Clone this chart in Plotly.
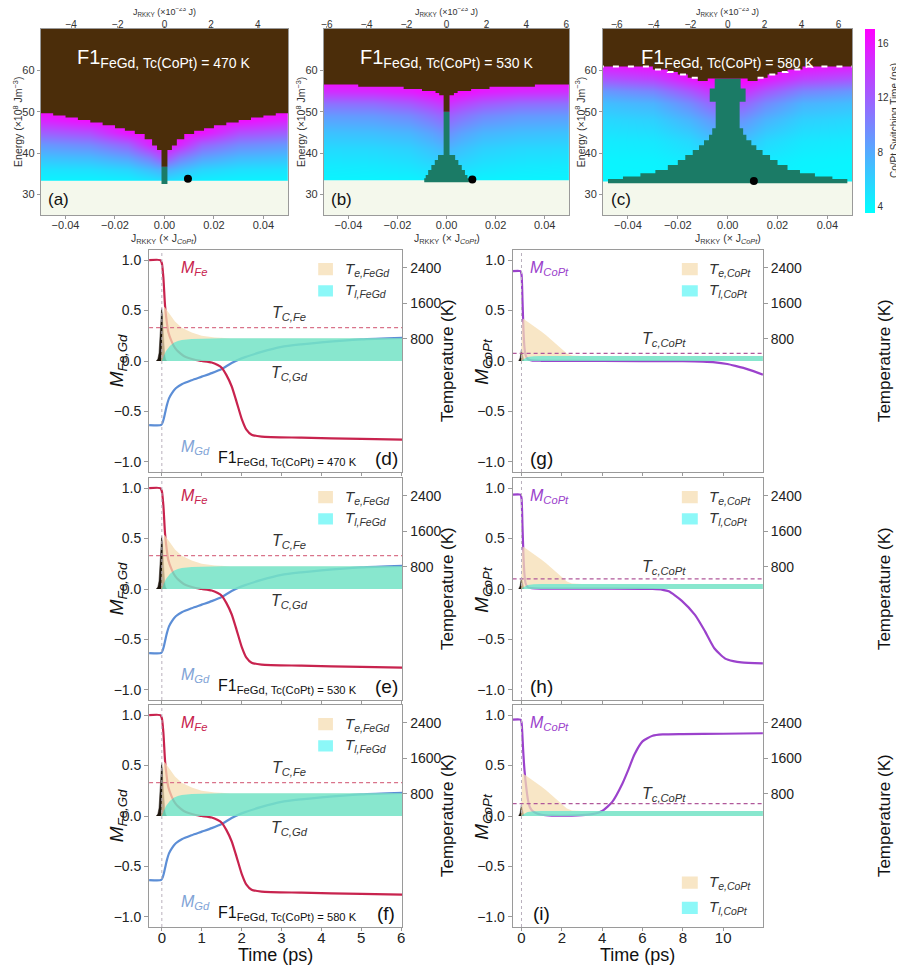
import plotly.graph_objects as go

# the page shows the figure with an 8 px body margin, so the figure is 8 px smaller
# than the window and all reference pixel positions are shifted by 8 px
PAGE_W, PAGE_H, OFF = 904, 968, 8
W, H = PAGE_W - OFF, PAGE_H - OFF
FONT = "Liberation Sans, Arial, sans-serif"

# ---------------- data : top row (switching-time maps) ----------------
tc_copt = [470, 530, 580]
heat_labels = ["(a)", "(b)", "(c)"]
heat_J = [-0.05, -0.03, -0.015, -0.006, 0.0, 0.006, 0.015, 0.03, 0.05]

heat_E_a = [33, 36, 39, 42, 45, 48, 51]
heat_z_a = [
    [4.0, 4.0, 4.1, 4.4, 4.8, 4.4, 4.1, 4.0, 4.0],
    [5.0, 5.2, 5.8, 7.0, 8.0, 7.0, 5.8, 5.2, 5.0],
    [6.8, 7.2, 8.5, 10.5, 13.0, 10.5, 8.5, 7.2, 6.8],
    [9.0, 9.8, 11.8, 15.0, 17.0, 15.0, 11.8, 9.8, 9.0],
    [12.0, 13.0, 16.0, 17.0, 17.0, 17.0, 16.0, 13.0, 12.0],
    [15.0, 16.3, 17.0, 17.0, 17.0, 17.0, 17.0, 16.3, 15.0],
    [17.0, 17.0, 17.0, 17.0, 17.0, 17.0, 17.0, 17.0, 17.0],
]
heat_E_b = [33, 37, 41, 45, 49, 52, 55, 58]
heat_z_b = [
    [4.0, 4.0, 4.0, 4.2, 4.4, 4.2, 4.0, 4.0, 4.0],
    [4.6, 4.7, 5.0, 5.5, 6.0, 5.5, 5.0, 4.7, 4.6],
    [5.5, 5.6, 6.0, 6.8, 7.5, 6.8, 6.0, 5.6, 5.5],
    [6.8, 7.0, 7.5, 8.5, 9.5, 8.5, 7.5, 7.0, 6.8],
    [8.8, 9.0, 9.8, 11.0, 12.0, 11.0, 9.8, 9.0, 8.8],
    [11.0, 11.3, 12.3, 13.5, 14.5, 13.5, 12.3, 11.3, 11.0],
    [14.5, 14.8, 15.5, 16.5, 17.0, 16.5, 15.5, 14.8, 14.5],
    [17.0, 17.0, 17.0, 17.0, 17.0, 17.0, 17.0, 17.0, 17.0],
]
heat_E_c = [33, 38, 43, 48, 52, 55, 58, 61]
heat_z_c = [
    [4.0, 4.0, 4.0, 4.0, 4.0, 4.0, 4.0, 4.0, 4.0],
    [4.1, 4.2, 4.6, 5.2, 5.5, 5.2, 4.6, 4.2, 4.1],
    [4.6, 4.8, 5.6, 6.8, 7.2, 6.8, 5.6, 4.8, 4.6],
    [5.6, 6.0, 7.5, 9.0, 9.5, 9.0, 7.5, 6.0, 5.6],
    [7.0, 7.6, 9.8, 11.8, 12.5, 11.8, 9.8, 7.6, 7.0],
    [9.0, 10.0, 12.5, 14.5, 15.5, 14.5, 12.5, 10.0, 9.0],
    [12.5, 13.5, 15.8, 17.0, 17.0, 17.0, 15.8, 13.5, 12.5],
    [15.5, 16.2, 17.0, 17.0, 17.0, 17.0, 17.0, 16.2, 15.5],
]

# upper (brown) boundary: bin outer edges (|J|) and energy of boundary in that bin
brown_J_a = [0.0012, 0.003, 0.005, 0.008, 0.012, 0.016, 0.020, 0.025, 0.030, 0.035, 0.040, 0.045, 0.050]
brown_E_a = [36.7, 40.7, 41.8, 43.3, 44.6, 45.4, 46.0, 46.7, 47.4, 48.0, 48.6, 49.1, 49.6]
brown_J_b = [0.0012, 0.003, 0.0045, 0.010, 0.0175, 0.036, 0.050]
brown_E_b = [50.0, 54.0, 54.5, 55.0, 55.5, 56.0, 56.6]
brown_J_c = [0.0055, 0.008, 0.012, 0.016, 0.020, 0.024, 0.030, 0.050]
brown_E_c = [58.0, 58.0, 57.4, 58.2, 59.0, 59.6, 60.2, 60.9]

# dark-green region: energy levels and half-width (|J|) of each row
teal_E_a = [32.5, 36.7]
teal_W_a = [0.0012]
teal_E_b = [32.9, 33.9, 34.7, 35.9, 37.1, 38.3, 39.5, 50.0]
teal_W_b = [0.0091, 0.0085, 0.0075, 0.0062, 0.0048, 0.0035, 0.0012]
teal_E_c = [32.7, 33.7, 34.3, 35.1, 35.9, 37.1, 38.3, 39.5, 40.7, 41.9, 43.1, 44.4, 46.0, 52.4, 55.6, 58.0]
teal_W_c = [0.048, 0.042, 0.035, 0.029, 0.024, 0.020, 0.017, 0.014, 0.0115, 0.0095, 0.0075, 0.0062, 0.0048, 0.0072, 0.0052]

thresh_E = [33.3, 33.4, 33.1]          # lowest switching energy
dot_J = [0.0095, 0.0105, 0.0105]
dot_E = [33.8, 33.6, 33.2]
top_range = [5.3, 6.15, 6.75]
top_ticks = [[-4, -2, 0, 2, 4], [-6, -4, -2, 0, 2, 4, 6], [-6, -4, -2, 0, 2, 4, 6]]
bottom_ticks = [-0.04, -0.02, 0.0, 0.02, 0.04]
cbar_ticks = [4, 8, 12, 16]

# ---------------- data : FeGd panels (d,e,f) ----------------
t_fe = [-0.32, -0.04, 0.0, 0.04, 0.08, 0.12, 0.16, 0.25, 0.33, 0.42, 0.55, 0.67, 0.85, 1.0,
        1.25, 1.4, 1.5, 1.62, 1.75, 1.87, 2.0, 2.12, 2.25, 2.5, 3.5, 5.0, 6.03]
m_fe = [1.0, 1.0, 0.97, 0.82, 0.55, 0.40, 0.29, 0.19, 0.13, 0.09, 0.05, 0.03, 0.01, 0.0,
        -0.015, -0.04, -0.066, -0.14, -0.25, -0.40, -0.57, -0.68, -0.73, -0.75, -0.76, -0.772, -0.78]
t_gd = [-0.32, -0.02, 0.02, 0.05, 0.09, 0.125, 0.18, 0.25, 0.35, 0.5, 0.75, 1.0, 1.25, 1.5,
        1.75, 2.0, 2.5, 3.0, 3.5, 4.0, 5.0, 6.03]
m_gd = [-0.635, -0.635, -0.61, -0.57, -0.50, -0.44, -0.37, -0.32, -0.27, -0.23, -0.19, -0.155,
        -0.12, -0.08, -0.02, 0.026, 0.09, 0.14, 0.165, 0.185, 0.215, 0.23]
t_te_fegd = [-0.32, -0.02, 0.0, 0.03, 0.06, 0.1, 0.17, 0.25, 0.33, 0.5, 0.75, 1.0, 1.33, 1.7, 2.2, 3.0, 6.03]
te_fegd = [300, 300, 700, 1350, 1530, 1480, 1370, 1270, 1190, 1050, 940, 870, 830, 815, 810, 810, 810]
t_tl_fegd = [-0.32, 0.0, 0.05, 0.1, 0.2, 0.3, 0.4, 0.5, 0.75, 1.0, 1.5, 6.03]
tl_fegd = [300, 300, 420, 520, 640, 710, 750, 775, 798, 806, 810, 810]
t_pulse_fegd = [-0.14, -0.1, -0.07, -0.04, -0.02, -0.005, 0.01, 0.03, 0.05, 0.07, 0.09, 0.12]
pulse_fegd = [0.0, 0.02, 0.08, 0.25, 0.42, 0.52, 0.47, 0.32, 0.17, 0.07, 0.02, 0.0]
tc_fe = 1050
fegd_labels = ["(d)", "(e)", "(f)"]

# ---------------- data : CoPt panels (g,h,i) ----------------
t_copt_g = [-0.44, -0.05, 0.0, 0.05, 0.1, 0.15, 0.2, 0.3, 0.5, 1.0, 4.0, 8.0, 9.0, 9.6, 10.2, 10.6, 11.0, 11.5, 11.97]
m_copt_g = [0.89, 0.89, 0.86, 0.60, 0.30, 0.13, 0.06, 0.02, 0.006, 0.002, 0.0, -0.002, -0.006, -0.013,
            -0.03, -0.048, -0.068, -0.10, -0.135]
t_copt_h = [-0.44, -0.05, 0.0, 0.05, 0.1, 0.15, 0.2, 0.3, 0.5, 1.0, 4.0, 6.5, 7.0, 7.3, 7.95, 8.6,
            9.1, 9.57, 10.1, 10.5, 10.9, 11.97]
m_copt_h = [0.935, 0.935, 0.90, 0.62, 0.32, 0.14, 0.06, 0.02, 0.008, 0.004, 0.003, 0.0, -0.008, -0.023,
            -0.117, -0.257, -0.42, -0.59, -0.69, -0.715, -0.728, -0.737]
t_copt_i = [-0.44, -0.05, 0.0, 0.04, 0.08, 0.15, 0.25, 0.33, 0.41, 0.55, 0.74, 1.0, 1.5, 2.5, 3.0, 3.5,
            4.0, 4.5, 5.0, 5.3, 5.6, 6.0, 6.5, 7.0, 8.0, 10.0, 11.97]
m_copt_i = [0.955, 0.955, 0.93, 0.82, 0.66, 0.45, 0.26, 0.15, 0.09, 0.05, 0.027, 0.012, 0.004, 0.004,
            0.008, 0.018, 0.05, 0.14, 0.32, 0.46, 0.61, 0.74, 0.795, 0.808, 0.812, 0.815, 0.82]
t_te_copt = [-0.44, -0.02, 0.02, 0.06, 0.2, 0.5, 0.75, 1.0, 1.25, 1.5, 1.75, 2.0, 2.25, 2.5, 3.0, 11.97]
te_copt = [300, 300, 1100, 1260, 1220, 1130, 1050, 960, 870, 770, 670, 570, 470, 425, 415, 414]
t_tl_copt = [-0.44, 0.0, 0.1, 0.3, 0.6, 1.0, 11.97]
tl_copt = [300, 300, 340, 390, 405, 412, 414]
t_pulse_copt = [-0.14, -0.07, -0.03, 0.0, 0.03, 0.07, 0.12]
pulse_copt = [0.0, 0.03, 0.08, 0.115, 0.08, 0.03, 0.0]
copt_labels = ["(g)", "(h)", "(i)"]

# ---------------- styles ----------------
BROWN = "#4B2D0A"
TEAL = "#1B7B66"
PALE = "#F4F8EC"
CRIMSON = "#C8234E"
BLUE = "#5C8ED6"
PURPLE = "#9B42CC"
WHEAT = "rgba(245,222,179,0.75)"
AQUA = "rgba(0,232,215,0.45)"
AQUA_KEY = "rgba(0,240,240,0.45)"
COOL = [[0.0, "#00FFFF"], [1.0, "#FF00FF"]]
ZMIN, ZMAX = 3.55, 17.05
AX = "#9a9a9a"

# layout positions in page pixels (as measured on the reference)
heat_xdom = [(38, 287), (323, 570), (604, 855)]
heat_ydom = (29, 215)
col_xdom = [(147, 402), (513, 765)]
row_ydom = [(250, 472), (478, 700), (705, 927)]
col_xrange = [[-0.32, 6.03], [-0.44, 11.97]]
col_xticks = [[0, 1, 2, 3, 4, 5, 6], [0, 2, 4, 6, 8, 10]]


def px(p):
    return (p - OFF) / W


def py(p):
    return 1 - (p - OFF) / H


def dom_x(a, b):
    return [px(a), px(b)]


def dom_y(top, bot):
    return [py(bot), py(top)]


def key(kind, n):
    return f"{kind}axis" if n == 1 else f"{kind}axis{n}"


def ref(kind, n):
    return kind if n == 1 else f"{kind}{n}"


def brown_polygon(jedge, evals, top=72.0, xmax=0.06):
    lo = [0.0] + jedge[:-1]
    hi = jedge[:-1] + [xmax]
    xs, ys = [xmax], [top]
    for k in range(len(evals) - 1, -1, -1):
        xs += [hi[k], lo[k]]
        ys += [evals[k], evals[k]]
    for k in range(len(evals)):
        xs += [-lo[k], -hi[k]]
        ys += [evals[k], evals[k]]
    xs += [-xmax]
    ys += [top]
    return xs, ys


def boundary_line(jedge, evals, jmin, xmax=0.06):
    lo = [0.0] + jedge[:-1]
    hi = jedge[:-1] + [xmax]
    xs, ys = [], []
    for k in range(len(evals)):
        if lo[k] >= jmin:
            xs += [lo[k], hi[k]]
            ys += [evals[k], evals[k]]
    return xs + [None] + [-x for x in xs], ys + [None] + ys


def teal_polygon(elev, half):
    xs, ys = [], []
    for i, h in enumerate(half):
        xs += [h, h]
        ys += [elev[i], elev[i + 1]]
    for i in range(len(half) - 1, -1, -1):
        xs += [-half[i], -half[i]]
        ys += [elev[i + 1], elev[i]]
    return xs, ys


fig = go.Figure()
layout = dict(
    width=W, height=H, margin=dict(l=0, r=0, t=0, b=0),
    paper_bgcolor="white", plot_bgcolor="white", showlegend=False,
    font=dict(family=FONT, size=12, color="#222"),
)
annotations = []
shapes = []


def ann(text, x, y, xref="paper", yref="paper", size=12, color="#222", **kw):
    d = dict(text=text, x=x, y=y, xref=xref, yref=yref, showarrow=False,
             xanchor="center", yanchor="middle",
             font=dict(family=FONT, size=size, color=color))
    d.update(kw)
    annotations.append(d)


# ================= top row =================
heat_E = [heat_E_a, heat_E_b, heat_E_c]
heat_z = [heat_z_a, heat_z_b, heat_z_c]
brown_J = [brown_J_a, brown_J_b, brown_J_c]
brown_E = [brown_E_a, brown_E_b, brown_E_c]
teal_E = [teal_E_a, teal_E_b, teal_E_c]
teal_W = [teal_W_a, teal_W_b, teal_W_c]

for i in range(3):
    xb, xt, yy = 2 * i + 1, 2 * i + 2, i + 1
    xa, ya = ref("x", xb), ref("y", yy)
    hm = dict(x=heat_J, y=heat_E[i], z=heat_z[i], zsmooth="best", colorscale=COOL,
              zmin=ZMIN, zmax=ZMAX, xaxis=xa, yaxis=ya, hoverinfo="skip", showscale=(i == 2))
    if i == 2:
        hm["colorbar"] = dict(
            x=px(868), xanchor="left", xpad=0, y=py(121), yanchor="middle", ypad=0,
            len=184 / H, lenmode="fraction", thickness=10, outlinewidth=0,
            tickvals=cbar_ticks, ticks="", tickfont=dict(family=FONT, size=10, color="#333"))
    fig.add_trace(go.Heatmap(**hm))
    # no-switching (below threshold) region
    fig.add_trace(go.Scatter(x=[-0.06, 0.06, 0.06, -0.06], y=[20, 20, thresh_E[i], thresh_E[i]],
                             fill="toself", fillcolor=PALE, mode="none", xaxis=xa, yaxis=ya,
                             hoverinfo="skip"))
    tx, ty = teal_polygon(teal_E[i], teal_W[i])
    fig.add_trace(go.Scatter(x=tx, y=ty, fill="toself", fillcolor=TEAL, mode="none",
                             xaxis=xa, yaxis=ya, hoverinfo="skip"))
    bx, by = brown_polygon(brown_J[i], brown_E[i])
    fig.add_trace(go.Scatter(x=bx, y=by, fill="toself", fillcolor=BROWN, mode="none",
                             xaxis=xa, yaxis=ya, hoverinfo="skip"))
    if i == 2:
        lx, ly = boundary_line(brown_J[i], brown_E[i], 0.012)
        fig.add_trace(go.Scatter(x=lx, y=ly, mode="lines", line=dict(color="white", width=2, dash="6px,9px"),
                                 xaxis=xa, yaxis=ya, hoverinfo="skip"))
    fig.add_trace(go.Scatter(x=[dot_J[i]], y=[dot_E[i]], mode="markers",
                             marker=dict(color="black", size=8), xaxis=xa, yaxis=ya, hoverinfo="skip"))
    # carrier for the top axis
    fig.add_trace(go.Scatter(x=[0], y=[50], mode="markers", marker=dict(opacity=0),
                             xaxis=ref("x", xt), yaxis=ya, hoverinfo="skip"))

    x0, x1 = heat_xdom[i]
    tick_font = dict(family=FONT, size=11, color="#333")
    layout[key("x", xb)] = dict(domain=dom_x(x0, x1), anchor=ya, range=[-0.05, 0.05],
                                tickvals=bottom_ticks, tickformat=".2f", ticks="outside", ticklen=3,
                                tickcolor=AX, showline=True, linecolor=AX, linewidth=1,
                                showgrid=False, zeroline=False, tickfont=tick_font,
                                ticklabelstandoff=-3)
    layout[key("x", xt)] = dict(overlaying=xa, side="top", anchor=ya,
                                range=[-top_range[i], top_range[i]], tickvals=top_ticks[i],
                                ticks="outside", ticklen=2, tickcolor=AX, showline=True, linecolor=AX,
                                linewidth=1, showgrid=False, zeroline=False,
                                tickfont=dict(family=FONT, size=10, color="#333"),
                                ticklabelstandoff=-6)
    layout[key("y", yy)] = dict(domain=dom_y(*heat_ydom), anchor=xa, range=[25, 70],
                                tickvals=[30, 40, 50, 60], ticks="outside", ticklen=3, tickcolor=AX,
                                showline=True, linecolor=AX, linewidth=1, mirror=True,
                                showgrid=False, zeroline=False, tickfont=tick_font)
    cx = px((x0 + x1) / 2)
    ann(f"F1<sub>FeGd, Tc(CoPt) = {tc_copt[i]} K</sub>", cx, py(58), size=20, color="white")
    ann(heat_labels[i], px(x0 + 18), py(200), size=17, color="#111")
    ann("Energy (×10<sup>8</sup> Jm<sup>−3</sup>)", px(x0 - 24), py(122), size=10.5,
        color="#333", textangle=-90)
    ann("J<sub>RKKY</sub> (× J<sub><i>CoPt</i></sub>)", cx, py(239), size=10.5, color="#333")
    ann("J<sub>RKKY</sub> (×10<sup>−23</sup> J)", cx, py(12), size=9, color="#333")

ann("Co/Pt Switching Time (ps)", px(898), py(121), size=10, color="#333", textangle=-90)

# ================= bottom panels =================
copt_t = [t_copt_g, t_copt_h, t_copt_i]
copt_m = [m_copt_g, m_copt_h, m_copt_i]

for k in range(6):
    col, row = k // 3, k % 3
    xn, ymn, ytn = 7 + k, 4 + 2 * k, 5 + 2 * k
    xa, yma, yta = ref("x", xn), ref("y", ymn), ref("y", ytn)
    xr = col_xrange[col]

    if col == 0:
        t_te, te, t_tl, tl, t_p, pulse = t_te_fegd, te_fegd, t_tl_fegd, tl_fegd, t_pulse_fegd, pulse_fegd
        tcline = tc_fe
        tc_color = "#D9738A"
    else:
        t_te, te, t_tl, tl, t_p, pulse = t_te_copt, te_copt, t_tl_copt, tl_copt, t_pulse_copt, pulse_copt
        tcline = tc_copt[row]
        tc_color = "#B0589A"

    # temperature fills (base 300 K = ambient)
    fig.add_trace(go.Scatter(x=[t_te[0], t_te[-1]], y=[te[0], te[0]], mode="lines", line=dict(width=0),
                             xaxis=xa, yaxis=yta, hoverinfo="skip"))
    fig.add_trace(go.Scatter(x=t_te, y=te, mode="lines", line=dict(width=0), fill="tonexty",
                             fillcolor=WHEAT, xaxis=xa, yaxis=yta, hoverinfo="skip"))
    fig.add_trace(go.Scatter(x=[t_tl[0], t_tl[-1]], y=[tl[0], tl[0]], mode="lines", line=dict(width=0),
                             xaxis=xa, yaxis=yta, hoverinfo="skip"))
    fig.add_trace(go.Scatter(x=t_tl, y=tl, mode="lines", line=dict(width=0), fill="tonexty",
                             fillcolor=AQUA, xaxis=xa, yaxis=yta, hoverinfo="skip"))
    # Curie temperature line
    fig.add_trace(go.Scatter(x=xr, y=[tcline, tcline], mode="lines",
                             line=dict(color=tc_color, width=1.3, dash="4px,3px"),
                             xaxis=xa, yaxis=yta, hoverinfo="skip"))
    # laser pulse
    fig.add_trace(go.Scatter(x=t_p, y=pulse, mode="lines", line=dict(color="#1c140c", width=0.5),
                             fill="tozeroy", fillcolor="#1c140c", xaxis=xa, yaxis=yma, hoverinfo="skip"))
    # magnetisation
    if col == 0:
        fig.add_trace(go.Scatter(x=t_gd, y=m_gd, mode="lines", line=dict(color=BLUE, width=2.2,
                                 shape="spline", smoothing=0.6), xaxis=xa, yaxis=yma, hoverinfo="skip"))
        fig.add_trace(go.Scatter(x=t_fe, y=m_fe, mode="lines", line=dict(color=CRIMSON, width=2.2,
                                 shape="spline", smoothing=0.6), xaxis=xa, yaxis=yma, hoverinfo="skip"))
    else:
        fig.add_trace(go.Scatter(x=copt_t[row], y=copt_m[row], mode="lines",
                                 line=dict(color=PURPLE, width=2.2, shape="spline", smoothing=0.6),
                                 xaxis=xa, yaxis=yma, hoverinfo="skip"))

    x0, x1 = col_xdom[col]
    y0, y1 = row_ydom[row]
    bottom = row == 2
    layout[key("x", xn)] = dict(domain=dom_x(x0, x1), anchor=yma, range=xr, tickvals=col_xticks[col],
                                showticklabels=bottom, ticks="outside", ticklen=3, tickcolor=AX,
                                showline=True, linecolor=AX, linewidth=1, mirror=True, showgrid=False,
                                zeroline=False, tickfont=dict(family=FONT, size=15, color="#222"),
                                ticklabelstandoff=-6)
    layout[key("y", ymn)] = dict(domain=dom_y(y0, y1), anchor=xa, range=[-1.1, 1.1],
                                 tickvals=[-1, -0.5, 0, 0.5, 1], tickformat=".1f", ticks="outside",
                                 ticklen=4, tickcolor=AX, showline=True, linecolor=AX, linewidth=1,
                                 showgrid=False, zeroline=False,
                                 tickfont=dict(family=FONT, size=14, color="#222"))
    layout[key("y", ytn)] = dict(overlaying=yma, side="right", anchor=xa, range=[-2200, 2800],
                                 tickvals=[800, 1600, 2400], ticks="outside", ticklen=4, tickcolor=AX,
                                 showline=True, linecolor=AX, linewidth=1, showgrid=False, zeroline=False,
                                 tickfont=dict(family=FONT, size=14, color="#222"))
    # t = 0 marker line
    shapes.append(dict(type="line", xref=xa, yref=f"{yma} domain", x0=0, x1=0, y0=0, y1=1,
                       line=dict(color="#b9b0bd", width=1, dash="3px,3px"), layer="above"))

    # in-panel labels
    if col == 0:
        ann("<i>M<sub>Fe</sub></i>", 0.8, 0.92, xa, yma, size=16, color=CRIMSON)
        ann("<i>M<sub>Gd</sub></i>", 0.85, -0.86, xa, yma, size=16, color="#7FA3D6")
        ann("<i>T<sub>C,Fe</sub></i>", 3.2, 0.47, xa, yma, size=16, color="#333")
        ann("<i>T<sub>C,Gd</sub></i>", 3.2, -0.12, xa, yma, size=16, color="#333")
        ann(f"F1<sub>FeGd, Tc(CoPt) = {tc_copt[row]} K</sub>", 3.15, -0.97, xa, yma, size=16, color="#111")
        ann(fegd_labels[row], 5.62, -0.97, xa, yma, size=19, color="#111")
        key_x = [3.92, 4.29]
        key_lab = 4.55
        key_y = [(0.85, 0.97), (0.64, 0.75)]
        names = ["<i>T<sub>e,FeGd</sub></i>", "<i>T<sub>l,FeGd</sub></i>"]
    else:
        ann("<i>M<sub>CoPt</sub></i>", 1.4, 0.92, xa, yma, size=16, color=PURPLE)
        ann("<i>T<sub>c,CoPt</sub></i>", 7.05, 0.21, xa, yma, size=16, color="#333")
        ann(copt_labels[row], 1.0, -0.97, xa, yma, size=19, color="#111")
        key_x = [7.95, 8.74]
        key_lab = 9.2
        key_y = [(0.85, 0.97), (0.64, 0.75)] if row < 2 else [(-0.72, -0.60), (-0.97, -0.85)]
        names = ["<i>T<sub>e,CoPt</sub></i>", "<i>T<sub>l,CoPt</sub></i>"]
    for (ky0, ky1), col_fill, nm in zip(key_y, [WHEAT, AQUA_KEY], names):
        shapes.append(dict(type="rect", xref=xa, yref=yma, x0=key_x[0], x1=key_x[1], y0=ky0, y1=ky1,
                           fillcolor=col_fill, line=dict(width=0)))
        ann(nm, key_lab, (ky0 + ky1) / 2, xa, yma, size=15, color="#333", xanchor="left")

    cy = py((y0 + y1) / 2)
    if col == 0:
        ann("<i>M<sub>Fe,Gd</sub></i>", px(116), cy, size=19, color="#111", textangle=-90)
        ann("Temperature (K)", px(447), cy, size=17, color="#111", textangle=-90)
    else:
        ann("<i>M<sub>CoPt</sub></i>", px(483), cy, size=19, color="#111", textangle=-90)
        ann("Temperature (K)", px(887), cy, size=17, color="#111", textangle=-90)

ann("Time (ps)", px((col_xdom[0][0] + col_xdom[0][1]) / 2), py(955), size=18, color="#111")
ann("Time (ps)", px((col_xdom[1][0] + col_xdom[1][1]) / 2), py(955), size=18, color="#111")

layout["annotations"] = annotations
layout["shapes"] = shapes
fig.update_layout(**layout)
fig.write_html("out.html")
